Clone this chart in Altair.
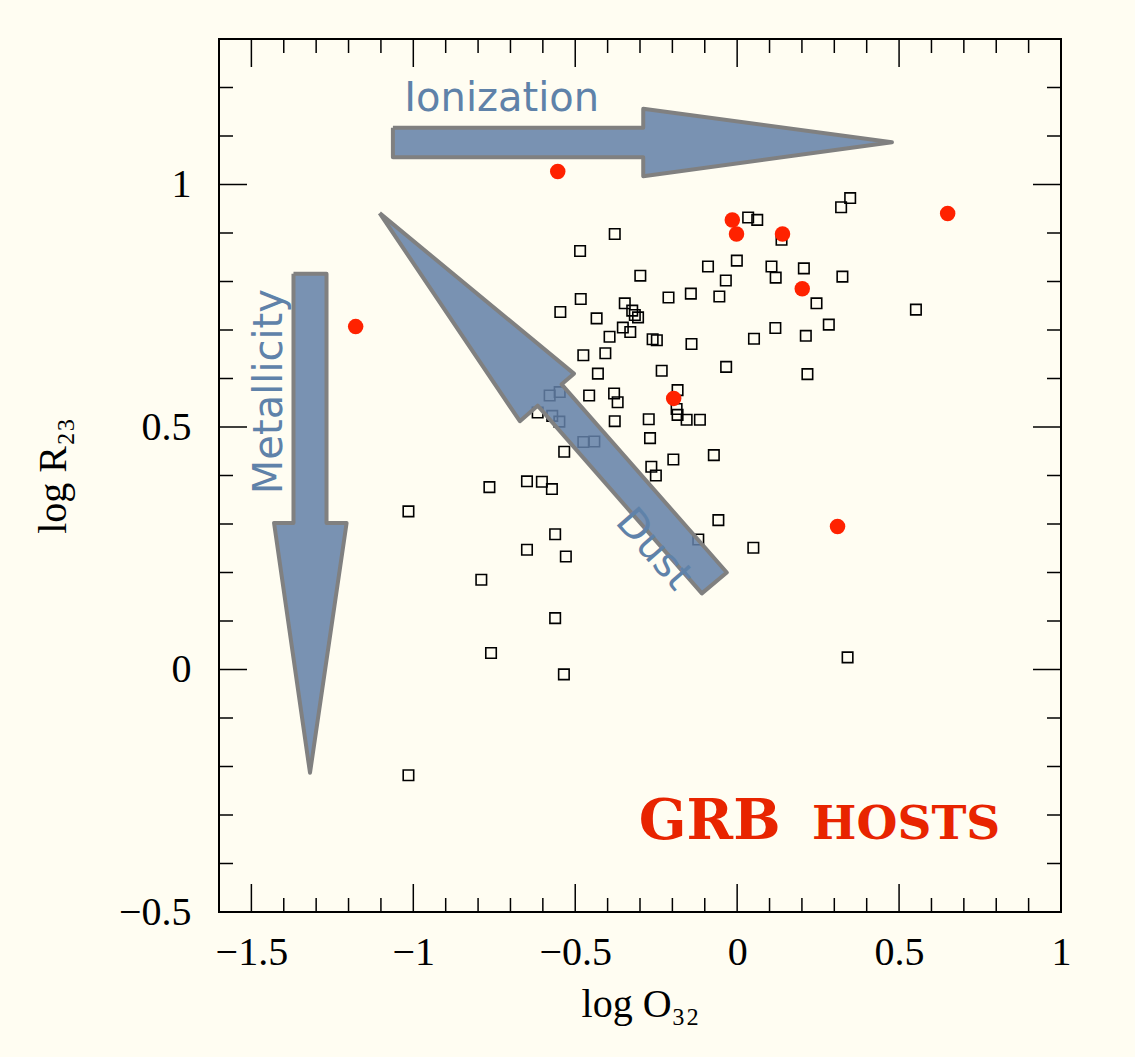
import altair as alt
import pandas as pd

# ---------------- data ----------------
sq_x = [-0.378, -0.485, -0.299, -0.090, -0.001, -0.035, -0.483, -0.546, -0.347, -0.324,
        -0.316, -0.306, -0.434, -0.212, -0.143, -0.055, -0.353, -0.330, -0.394, -0.261,
        -0.248, -0.141, -0.475, -0.407, -0.430, -0.233, -0.034, -0.548, -0.579, -0.457,
        -0.380, -0.369, -0.184, -0.187, -0.184, -0.156, -0.115, -0.616, -0.571, -0.549,
        -0.378, -0.273, -0.269, -0.475, -0.441, -0.534, -0.197, -0.072, -0.265, -0.251,
        -0.765, -0.649, -0.603, -0.572, -1.015, -0.058, -0.562, -0.649, -0.529, -0.120,
        -0.790, -0.562, -0.760, -0.535, -1.015, 0.050, 0.341, 0.349, 0.321, 0.034,
        0.062, 0.137, 0.106, 0.119, 0.206, 0.325, 0.245, 0.552, 0.118, 0.283,
        0.052, 0.212, 0.217]
sq_y = [0.898, 0.863, 0.812, 0.831, 0.843, 0.802, 0.764, 0.737, 0.755, 0.740,
        0.731, 0.726, 0.724, 0.767, 0.775, 0.769, 0.705, 0.696, 0.686, 0.681,
        0.679, 0.671, 0.648, 0.652, 0.610, 0.616, 0.624, 0.572, 0.565, 0.565,
        0.569, 0.551, 0.576, 0.537, 0.525, 0.515, 0.515, 0.530, 0.523, 0.511,
        0.512, 0.516, 0.477, 0.469, 0.470, 0.449, 0.433, 0.442, 0.418, 0.400,
        0.376, 0.388, 0.387, 0.372, 0.326, 0.308, 0.279, 0.247, 0.233, 0.268,
        0.185, 0.106, 0.034, -0.010, -0.218, 0.251, 0.025, 0.972, 0.953, 0.932,
        0.927, 0.886, 0.831, 0.808, 0.827, 0.810, 0.755, 0.742, 0.704, 0.711,
        0.682, 0.688, 0.609]

grb_x = [-0.554, -1.178, -0.015, -0.002, 0.140, 0.201, -0.196, 0.310, 0.650]
grb_y = [1.027, 0.707, 0.927, 0.898, 0.898, 0.785, 0.559, 0.295, 0.940]

x_major = [-1.5, -1.0, -0.5, 0.0, 0.5, 1.0]
x_minor = [-1.4, -1.3, -1.2, -1.1, -0.9, -0.8, -0.7, -0.6, -0.4, -0.3, -0.2, -0.1,
           0.1, 0.2, 0.3, 0.4, 0.6, 0.7, 0.8, 0.9]
y_labels = [-0.5, 0.0, 0.5, 1.0]
y_major = [0.0, 0.5, 1.0]
y_minor = [-0.4, -0.3, -0.2, -0.1, 0.1, 0.2, 0.3, 0.4, 0.6, 0.7, 0.8, 0.9, 1.1, 1.2]

# arrow outlines (data coordinates)
arrow_id = ["ion"] * 8 + ["met"] * 8 + ["dust"] * 8
arrow_x = [-1.063, -0.290, -0.290, 0.478, -0.290, -0.290, -1.063, -1.063,
           -1.370, -1.268, -1.268, -1.206, -1.319, -1.430, -1.370, -1.370,
           -1.104, -0.504, -0.542, -0.032, -0.109, -0.616, -0.671, -1.104]
arrow_y = [1.117, 1.117, 1.156, 1.087, 1.017, 1.056, 1.056, 1.117,
           0.816, 0.816, 0.302, 0.302, -0.213, 0.302, 0.302, 0.816,
           0.941, 0.610, 0.588, 0.200, 0.157, 0.544, 0.512, 0.941]
arrow_ord = list(range(8)) * 3

lab_text = ["Ionization", "Metallicity", "Dust"]
lab_x = [-0.727, -1.406, -0.286]
lab_y = [1.152, 0.573, 0.231]
lab_angle = [0, 270, 49]

# ---------------- chart ----------------
W, H = 842, 873
MAJ, MIN = 28, 14
SERIF = "Liberation Serif"
BLUE_TXT = "#5f82a9"

xscale = alt.Scale(domain=[-1.6, 1.0], nice=False, zero=False)
yscale = alt.Scale(domain=[-0.5, 1.3], nice=False, zero=False)

xaxis = alt.Axis(values=x_major, format="~g", ticks=False, tickSize=0, domain=False,
                 grid=False, labelFont=SERIF, labelFontSize=40, labelPadding=20,
                 labelColor="black", labelFlush=False, labelOverlap=False,
                 title="log O₃₂", titleFont=SERIF, titleFontSize=40,
                 titleFontWeight="normal", titleColor="black", titleY=72,
                 titleBaseline="top")
yaxis = alt.Axis(values=y_labels, format="~g", ticks=False, tickSize=0, domain=False,
                 grid=False, labelFont=SERIF, labelFontSize=40, labelPadding=28,
                 labelColor="black", labelFlush=False, labelOverlap=False,
                 title="log R₂₃", titleFont=SERIF, titleFontSize=40,
                 titleFontWeight="normal", titleColor="black", titleX=-146,
                 titleY=H / 2, titleAngle=270, titleBaseline="bottom")

X = alt.X("x:Q", scale=xscale, axis=xaxis)
Y = alt.Y("y:Q", scale=yscale, axis=yaxis)

sq = pd.DataFrame({"x": sq_x, "y": sq_y})
grb = pd.DataFrame({"x": grb_x, "y": grb_y})
arrows = pd.DataFrame({"id": arrow_id, "x": arrow_x, "y": arrow_y, "o": arrow_ord})

squares = alt.Chart(sq).mark_point(shape="square", filled=False, size=110,
                                   stroke="black", strokeWidth=1.6,
                                   opacity=1).encode(x=X, y=Y)
circles = alt.Chart(grb).mark_circle(size=240, color="#ff2200",
                                     opacity=1).encode(x=X, y=Y)
arrow_layer = alt.Chart(arrows).mark_line(
    fill="#6380a8", fillOpacity=0.86, stroke="#808080", strokeWidth=4,
    strokeJoin="round"
).encode(x=X, y=Y, detail="id:N", order="o:Q")

layers = [squares, circles, arrow_layer]

for t, x, y, a in zip(lab_text, lab_x, lab_y, lab_angle):
    layers.append(
        alt.Chart(pd.DataFrame({"x": [x], "y": [y], "t": [t]})).mark_text(
            font="DejaVu Sans", fontSize=40, color=BLUE_TXT, angle=a,
            align="center", baseline="alphabetic"
        ).encode(x=X, y=Y, text="t:N")
    )

grb_txt = pd.DataFrame({"x": [-0.085, 0.522], "y": [-0.349, -0.349],
                        "t": ["GRB", "HOSTS"], "s": [56, 47]})
layers.append(
    alt.Chart(grb_txt).mark_text(font="DejaVu Serif", fontWeight="bold",
                                 color="#e82400", align="center",
                                 baseline="alphabetic").encode(
        x=X, y=Y, text="t:N",
        size=alt.Size("s:Q", scale=None, legend=None))
)

# ticks pointing inwards on all four sides
def xticks(vals, L):
    d = pd.DataFrame({"x": vals})
    b = alt.Chart(d).mark_rule(color="black", strokeWidth=1.5).encode(
        x=X, y=alt.value(H), y2=alt.value(H - L))
    t = alt.Chart(d).mark_rule(color="black", strokeWidth=1.5).encode(
        x=X, y=alt.value(0), y2=alt.value(L))
    return [b, t]

def yticks(vals, L):
    d = pd.DataFrame({"y": vals})
    l = alt.Chart(d).mark_rule(color="black", strokeWidth=1.5).encode(
        y=Y, x=alt.value(0), x2=alt.value(L))
    r = alt.Chart(d).mark_rule(color="black", strokeWidth=1.5).encode(
        y=Y, x=alt.value(W), x2=alt.value(W - L))
    return [l, r]

tick_layers = xticks(x_major, MAJ) + xticks(x_minor, MIN) + \
    yticks(y_major, MAJ) + yticks(y_minor, MIN)

chart = alt.layer(*(tick_layers + layers)).properties(
    width=W, height=H,
    autosize=alt.AutoSizeParams(type="none"),
    padding={"left": 219, "top": 39, "right": 74, "bottom": 145},
    background="#fffdf2",
).configure_view(stroke="black", strokeWidth=2)

chart.save("out.html", embed_options={"renderer": "svg", "actions": False})
